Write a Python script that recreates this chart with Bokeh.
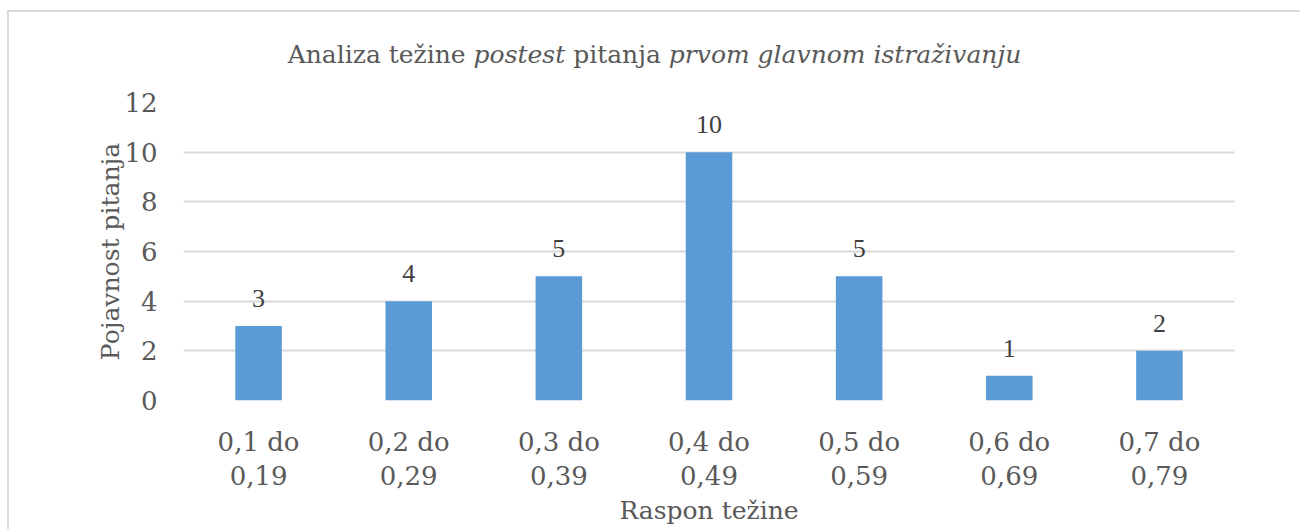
from bokeh.plotting import figure
from bokeh.models import ColumnDataSource, FactorRange, Range1d, LabelSet, FixedTicker, Div
from bokeh.layouts import column
from bokeh.embed import file_html
from bokeh.resources import INLINE

# ---- data ----
categories = ["0,1 do\n0,19", "0,2 do\n0,29", "0,3 do\n0,39", "0,4 do\n0,49",
              "0,5 do\n0,59", "0,6 do\n0,69", "0,7 do\n0,79"]
counts = [3, 4, 5, 10, 5, 1, 2]
y_ticks = [0, 2, 4, 6, 8, 10, 12]
title_parts = ["Analiza težine", "postest", "pitanja", "prvom glavnom istraživanju"]
title_italic = [False, True, False, True]
x_title = "Raspon težine"
y_title = "Pojavnost pitanja"

FONT = "DejaVu Serif"
TXT = "#595959"
BORDER = "2px solid #D9D9D9"
W = 1293

# ---- title (HTML, mixed roman / italic) ----
pieces = [f"<i>{t}</i>" if it else t for t, it in zip(title_parts, title_italic)]
title_html = (f"<div style=\"font-family:'DejaVu Serif';font-size:25px;color:{TXT};"
              f"text-align:center;line-height:30px;padding-top:28px;padding-left:35px;"
              f"width:1256px;white-space:nowrap\">{' '.join(pieces)}</div>")
title_div = Div(text=title_html, width=W, height=75, margin=0,
                styles={"border-left": BORDER, "border-top": BORDER, "background": "white",
                        "box-sizing": "border-box"})

# ---- chart ----
src = ColumnDataSource(dict(cat=categories, val=counts, lab=[str(v) for v in counts]))

p = figure(width=W, height=444, x_range=FactorRange(*categories), y_range=Range1d(0, 12),
           output_backend="svg", toolbar_location=None, margin=0,
           min_border_left=174, min_border_right=68, min_border_top=17, min_border_bottom=129)
p.styles = {"border-left": BORDER, "box-sizing": "border-box"}
p.outline_line_color = None
p.background_fill_color = "white"
p.border_fill_color = "white"

p.vbar(x="cat", top="val", width=0.31, source=src, fill_color="#5B9BD5", line_color=None)

labels = LabelSet(x="cat", y="val", text="lab", source=src, text_align="center",
                  text_baseline="bottom", y_offset=19, text_font=FONT,
                  text_font_size="26px", text_color="#404040")
p.add_layout(labels)

# grid
p.xgrid.grid_line_color = None
p.ygrid.grid_line_color = "#D9D9D9"
p.ygrid.grid_line_width = 2
p.yaxis.ticker = FixedTicker(ticks=y_ticks)

# y axis
p.yaxis.axis_line_color = None
p.yaxis.major_tick_line_color = None
p.yaxis.minor_tick_line_color = None
p.yaxis.major_tick_out = 0
p.yaxis.major_tick_in = 0
p.yaxis.major_label_standoff = 26
p.yaxis.major_label_text_font = FONT
p.yaxis.major_label_text_font_size = "26px"
p.yaxis.major_label_text_color = TXT
p.yaxis.axis_label = y_title
p.yaxis.axis_label_text_font = FONT
p.yaxis.axis_label_text_font_size = "25px"
p.yaxis.axis_label_text_font_style = "normal"
p.yaxis.axis_label_text_color = TXT
p.yaxis.axis_label_standoff = -4

# x axis
p.xaxis.axis_line_color = None
p.xaxis.major_tick_line_color = None
p.xaxis.minor_tick_line_color = None
p.xaxis.major_tick_out = 0
p.xaxis.major_tick_in = 0
p.xaxis.major_label_standoff = 26
p.xaxis.major_label_text_font = FONT
p.xaxis.major_label_text_font_size = "26px"
p.xaxis.major_label_text_color = TXT
p.xaxis.major_label_text_line_height = 1.15
p.xaxis.axis_label = x_title
p.xaxis.axis_label_text_font = FONT
p.xaxis.axis_label_text_font_size = "25px"
p.xaxis.axis_label_text_font_style = "normal"
p.xaxis.axis_label_text_color = TXT
p.xaxis.axis_label_standoff = 2

layout = column(title_div, p, spacing=0, margin=0,
                styles={"position": "absolute", "left": "7px", "top": "10px"})

open("out.html", "w").write(file_html(layout, INLINE))
